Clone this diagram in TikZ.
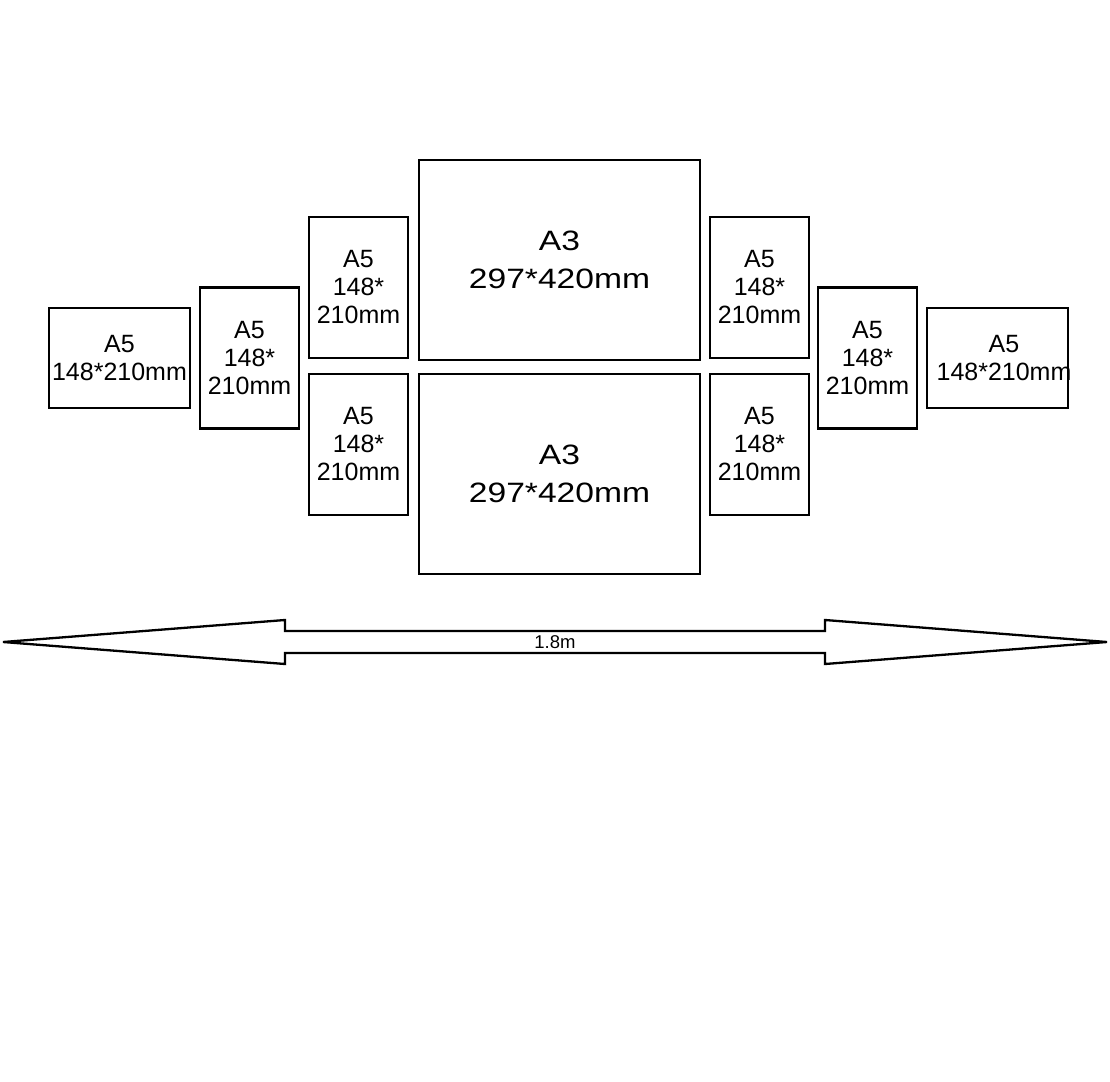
\documentclass[tikz,border=0pt]{standalone}
\usepackage{fontspec}
\setmainfont{Liberation Sans}
\newfontfamily\widesans{Liberation Sans}[FakeStretch=1.2]
\usetikzlibrary{positioning}

\begin{document}
\begin{tikzpicture}[x=1pt,y=-1pt,line width=2.3pt,
    every node/.style={draw,rectangle,outer sep=0pt,inner sep=0pt,align=center},
    a5node/.style={minimum width=99pt,minimum height=141pt,font=\fontsize{25}{28}\selectfont},
    a5wide/.style={a5node,minimum width=141pt,minimum height=100pt},
    a3node/.style={minimum width=281pt,minimum height=200pt,font=\widesans\fontsize{28}{38.4}\selectfont}
    ]
    \useasboundingbox (0,0) rectangle (1110,1081);

    \node (t3) [a3node] at (559.5,260) {A3\\297*420mm};
    \node (b3) [a3node,below=14pt of t3] {A3\\297*420mm};
    \node (lt) [a5node,left=11pt of t3.south west,anchor=south east,yshift=2pt] {A5\\148*\\210mm};
    \node (lb) [a5node,below=16pt of lt] {A5\\148*\\210mm};
    \node (l2) [a5node,left=10pt of lt.south west] {A5\\148*\\210mm};
    \node (l1) [a5wide,left=10pt of l2] {A5\\148*210mm};
    \node (rt) [a5node,right=10pt of t3.south east,anchor=south west,yshift=2pt] {A5\\148*\\210mm};
    \node (rb) [a5node,below=16pt of rt] {A5\\148*\\210mm};
    \node (r2) [a5node,right=9pt of rt.south east] {A5\\148*\\210mm};
    \node (r1) [a5wide,right=10pt of r2] {\makebox[0pt]{\hspace{13pt}A5}\\\makebox[0pt]{\hspace{13pt}148*210mm}};

    % the arrow
    \coordinate (tipl) at (3,642);
    \coordinate (tipr) at (1107,642);
    \draw (tipl) -- (285,620) -- (285,631) -- (825,631) -- (825,620) -- (tipr)
        -- (825,664) -- (825,653) -- (285,653) -- (285,664) -- cycle;
    \node (len) [draw=none,font=\fontsize{18.5}{22}\selectfont] at (555,642) {1.8m};
\end{tikzpicture}
\end{document}
